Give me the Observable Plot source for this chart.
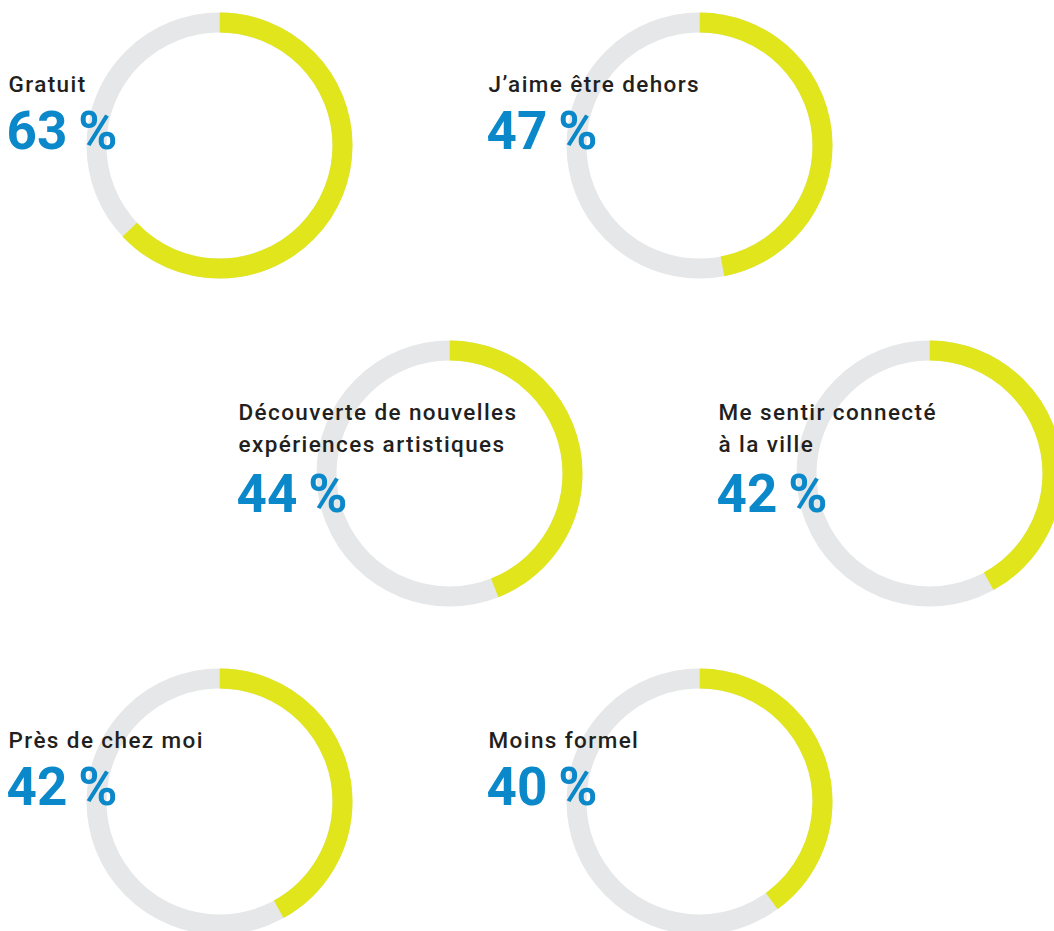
<!DOCTYPE html>
<html><head><meta charset="utf-8">
<script src="https://cdn.jsdelivr.net/npm/d3@7"></script>
<script src="https://cdn.jsdelivr.net/npm/@observablehq/plot@0.6"></script>
<style>
body{margin:0;background:#fff;overflow:hidden}
svg [font-size="22.5"], svg [font-size="22.5"] text { letter-spacing: 1.4px; }
</style>
</head><body><div id="chart"></div>
<script>
const categories = [
  "Gratuit",
  "J’aime être dehors",
  "Découverte de nouvelles\nexpériences artistiques",
  "Me sentir connecté\nà la ville",
  "Près de chez moi",
  "Moins formel"
];
const values = [63, 47, 44, 42, 42, 40];

const data = categories.map((label, i) => ({label, value: values[i], i}));

// layout (staggered 2-column grid)
const row = d => Math.floor(d.i / 2);
const cx = d => 219 + 480 * (d.i % 2) + (row(d) === 1 ? 230 : 0);
const cy = d => 145 + 328 * row(d);
const nLines = d => d.label.split("\n").length;
const LH = 32;

const R = 123, SW = 20, C = 2 * Math.PI * R;
const GRAY = "#e6e7e8", YELLOW = "#e1e51b", BLUE = "#0a88c9", DARK = "#231f20";
const FONT = "Roboto, 'DejaVu Sans', sans-serif";

const chart = Plot.plot({
  width: 1054,
  height: 931,
  margin: 0,
  x: {type: "identity", axis: null},
  y: {type: "identity", axis: null},
  marks: [
    Plot.dot(data, {x: cx, y: cy, r: R, stroke: GRAY, strokeWidth: SW, fill: "none"}),
    ...data.map(d => {
      const L = C * d.value / 100;
      return Plot.dot([d], {
        x: cx, y: cy, r: R, stroke: YELLOW, strokeWidth: SW, fill: "none",
        strokeDasharray: `${L} ${C - L}`, strokeDashoffset: C / 4
      });
    }),
    Plot.text(data, {
      x: d => cx(d) - 211,
      y: d => cy(d) - 54 + LH * (nLines(d) - 1),
      text: "label",
      textAnchor: "start",
      lineAnchor: "bottom",
      lineHeight: LH / 22.5,
      fontSize: 22.5,
      fontWeight: 500,
      fontFamily: FONT,
      fill: DARK
    }),
    Plot.text(data, {
      x: d => cx(d) - 213,
      y: d => cy(d) + 3 + (LH + 3) * (nLines(d) - 1),
      text: d => d.value + "\u2009%",
      textAnchor: "start",
      lineAnchor: "bottom",
      fontSize: 53,
      fontWeight: 700,
      fontFamily: FONT,
      fill: BLUE
    })
  ]
});
document.getElementById("chart").appendChild(chart);
</script>
</body></html>
